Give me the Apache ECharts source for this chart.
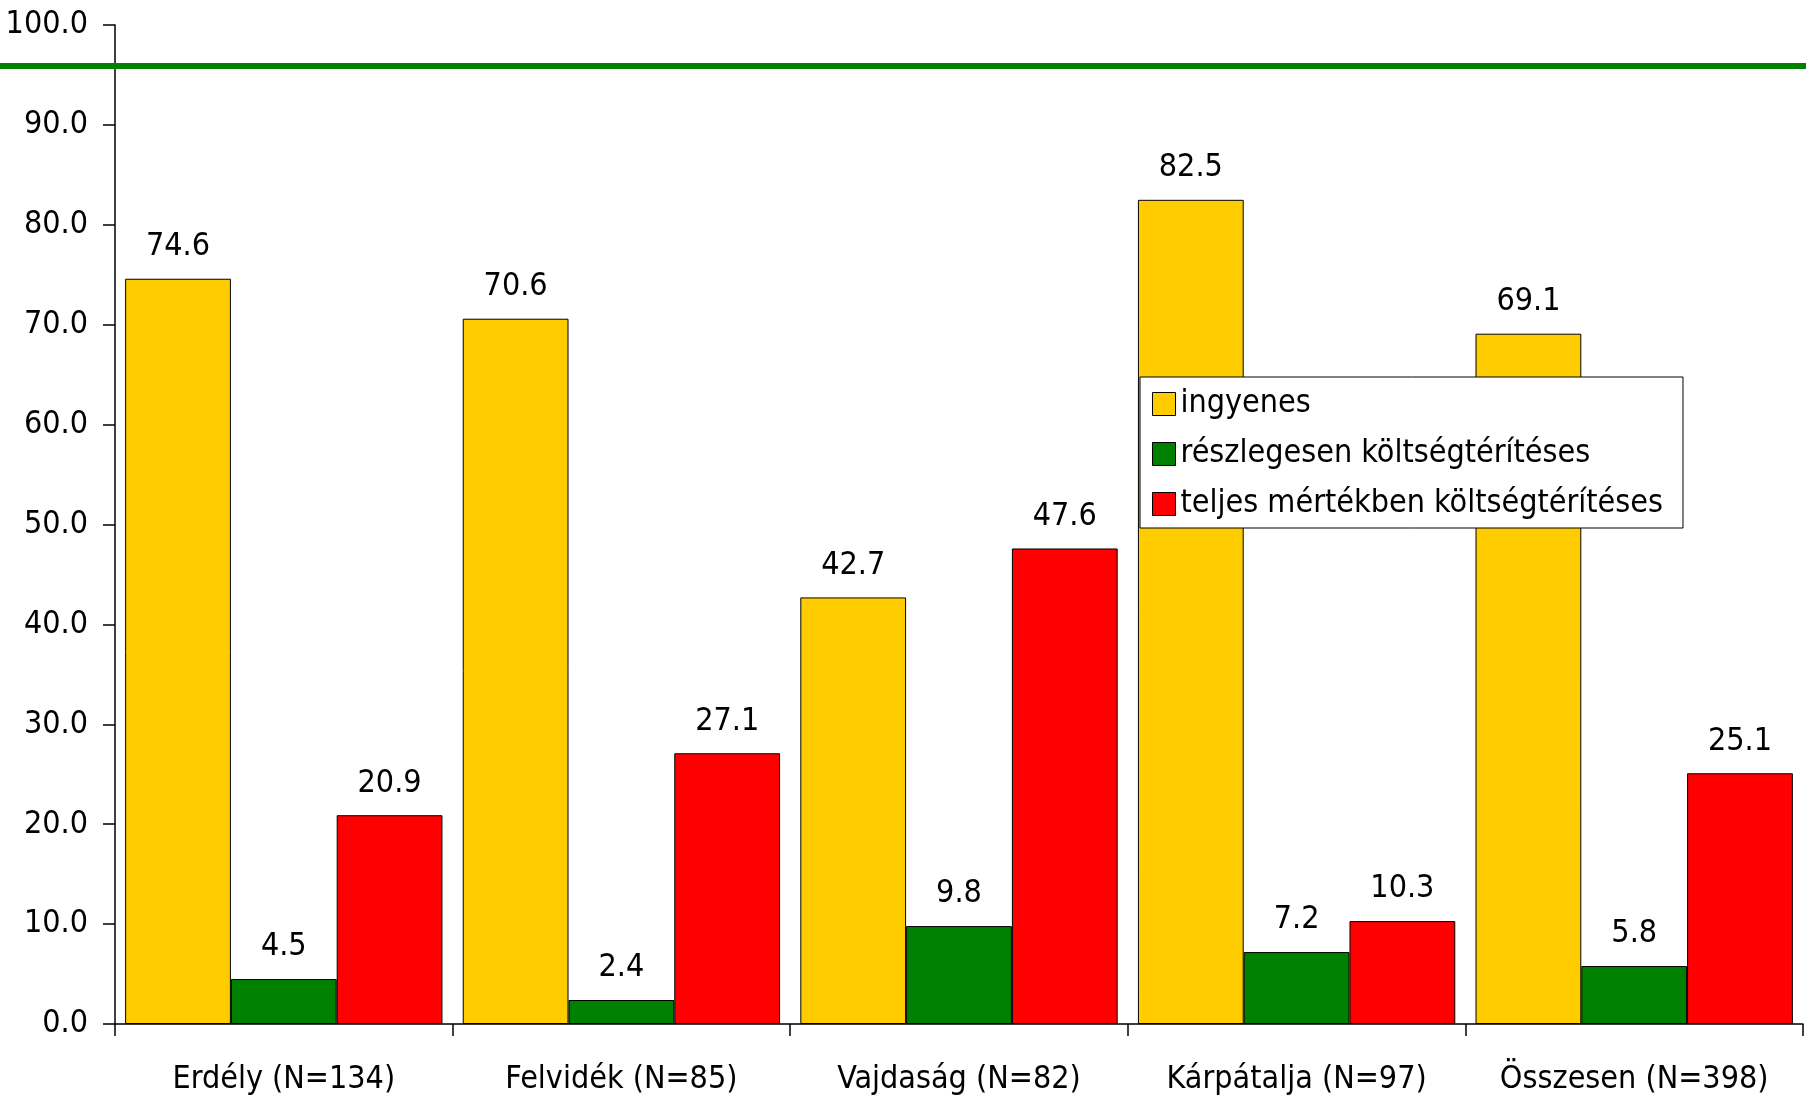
<!DOCTYPE html>
<html>
<head>
<meta charset="utf-8">
<style>html,body{margin:0;padding:0;background:#fff}#c{width:1806px;height:1100px}</style>
<script src="https://cdn.jsdelivr.net/npm/echarts@6/dist/echarts.min.js"></script>
</head>
<body>
<div id="c"></div>
<script>
var categories = ['Erdély (N=134)', 'Felvidék (N=85)', 'Vajdaság (N=82)', 'Kárpátalja (N=97)', 'Összesen (N=398)'];
var seriesNames = ['ingyenes', 'részlegesen költségtérítéses', 'teljes mértékben költségtérítéses'];
var ingyenes = [74.6, 70.6, 42.7, 82.5, 69.1];
var reszleges = [4.5, 2.4, 9.8, 7.2, 5.8];
var teljes = [20.9, 27.1, 47.6, 10.3, 25.1];
var colors = ['#FFCC00', '#008000', '#FF0000'];
var FONT = '"DejaVu Sans Condensed", sans-serif';

var chart = echarts.init(document.getElementById('c'));
function mk(name, data, color) {
  return {
    name: name, type: 'bar', data: data,
    barGap: '0%', barCategoryGap: '6%',
    itemStyle: { color: color, borderColor: '#000', borderWidth: 1 },
    label: { show: true, position: 'top', distance: 16, color: '#000', fontSize: 32, fontFamily: FONT,
      formatter: function (p) { return p.value.toFixed(1); } },
    emphasis: { disabled: true }
  };
}
chart.setOption({
  animation: false,
  backgroundColor: '#fff',
  grid: { left: 115, right: 3, top: 25, bottom: 76, containLabel: false },
  legend: {
    orient: 'vertical', left: 1140, top: 377,
    data: seriesNames,
    itemWidth: 23, itemHeight: 23, itemGap: 18,
    padding: [11, 20, 8, 12],
    backgroundColor: '#fff', borderColor: '#000', borderWidth: 1,
    icon: 'rect',
    itemStyle: { borderColor: '#000', borderWidth: 1 },
    textStyle: { fontSize: 32, fontFamily: FONT, color: '#000', lineHeight: 32 }
  },
  xAxis: {
    type: 'category', data: categories,
    axisLine: { lineStyle: { color: '#000', width: 1.5 } },
    axisTick: { show: true, length: 12, lineStyle: { color: '#000', width: 1.5 } },
    axisLabel: { interval: 0, fontSize: 32, fontFamily: FONT, color: '#000', margin: 40 }
  },
  yAxis: {
    type: 'value', min: 0, max: 100, interval: 10,
    splitLine: { show: false },
    axisLine: { show: true, lineStyle: { color: '#000', width: 1.5 } },
    axisTick: { show: true, length: 12, lineStyle: { color: '#000', width: 1.5 } },
    axisLabel: { fontSize: 32, fontFamily: FONT, color: '#000', margin: 27,
      formatter: function (v) { return v.toFixed(1); } }
  },
  graphic: [{
    type: 'line', z: 100,
    shape: { x1: 0, y1: 66, x2: 1806, y2: 66 },
    style: { stroke: '#008000', lineWidth: 6 }
  }],
  series: [mk(seriesNames[0], ingyenes, colors[0]), mk(seriesNames[1], reszleges, colors[1]), mk(seriesNames[2], teljes, colors[2])]
});
</script>
</body>
</html>
